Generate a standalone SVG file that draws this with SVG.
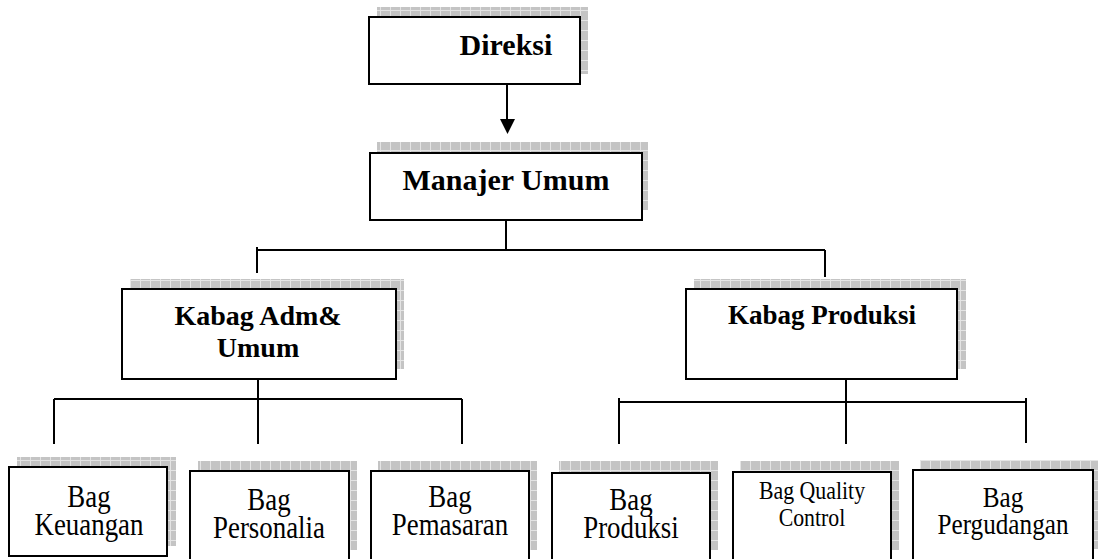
<svg xmlns="http://www.w3.org/2000/svg" width="1098" height="559" viewBox="0 0 1098 559">
<style>
.box{fill:#fff;stroke:#000;stroke-width:2}
.sh{fill:url(#grid);stroke:none}
.b{font-family:"Liberation Serif","Times New Roman",serif;font-weight:bold;text-anchor:middle;fill:#000}
.r{font-family:"Liberation Serif","Times New Roman",serif;text-anchor:middle;fill:#000}
.ln{stroke:#000;stroke-width:2;fill:none}
</style>
<defs>
<pattern id="grid" width="10" height="10" patternUnits="userSpaceOnUse">
<rect width="10" height="10" fill="#c4c4c4"/>
<rect x="0" y="0" width="1" height="10" fill="#e4e4e4"/>
<rect x="0" y="0" width="10" height="1" fill="#e4e4e4"/>
</pattern>
</defs>
<rect width="1098" height="559" fill="#fff"/>
<g id="connectors">
<line class="ln" x1="507" y1="84" x2="507" y2="121"/>
<polygon points="500,119 515,119 507.5,134" fill="#000"/>
<path class="ln" d="M506,220 V250 M257,250 H825 M257,247 V273 M825,250 V277"/>
<path class="ln" d="M258,379 V399 M54,399 H462 M54,399 V444 M258,399 V444 M462,399 V444"/>
<path class="ln" d="M846,379 V402 M619,402 H1026 M619,398 V444 M846,402 V444 M1026,398 V443"/>
</g>
<g id="direksi">
<rect class="sh" x="377" y="7" width="211" height="67"/>
<rect class="box" x="369" y="17" width="211" height="67"/>
<text class="b" x="506" y="55" font-size="30">Direksi</text>
</g>
<g id="manajer">
<rect class="sh" x="377" y="142" width="271" height="68"/>
<rect class="box" x="370" y="153" width="272" height="67"/>
<text class="b" x="506" y="190" font-size="30">Manajer Umum</text>
</g>
<g id="kabag-adm">
<rect class="sh" x="130" y="279" width="274" height="90"/>
<rect class="box" x="122" y="289" width="274" height="90"/>
<text class="b" x="258" y="325" font-size="28">Kabag Adm&amp;<tspan x="258" dy="32">Umum</tspan></text>
</g>
<g id="kabag-produksi">
<rect class="sh" x="694" y="279" width="272" height="90"/>
<rect class="box" x="686" y="289" width="271" height="90"/>
<text class="b" x="822" y="324" font-size="27">Kabag Produksi</text>
</g>
<g id="bag-keuangan">
<rect class="sh" x="17" y="457" width="159" height="89"/>
<rect class="box" x="9" y="467" width="158" height="89"/>
<text class="r" transform="translate(89,0) scale(0.84,1)" x="0" y="507" font-size="32">Bag<tspan x="0" dy="28">Keuangan</tspan></text>
</g>
<g id="bag-personalia">
<rect class="sh" x="198" y="461" width="159" height="89"/>
<rect class="box" x="190" y="471" width="159" height="95"/>
<text class="r" transform="translate(269,0) scale(0.84,1)" x="0" y="510" font-size="32">Bag<tspan x="0" dy="28">Personalia</tspan></text>
</g>
<g id="bag-pemasaran">
<rect class="sh" x="378" y="461" width="159" height="89"/>
<rect class="box" x="371" y="471" width="158" height="95"/>
<text class="r" transform="translate(450,0) scale(0.84,1)" x="0" y="507" font-size="32">Bag<tspan x="0" dy="28">Pemasaran</tspan></text>
</g>
<g id="bag-produksi">
<rect class="sh" x="559" y="461" width="159" height="89"/>
<rect class="box" x="552" y="473" width="158" height="95"/>
<text class="r" transform="translate(631,0) scale(0.84,1)" x="0" y="510" font-size="32">Bag<tspan x="0" dy="28">Produksi</tspan></text>
</g>
<g id="bag-qc">
<rect class="sh" x="740" y="461" width="159" height="89"/>
<rect class="box" x="733" y="472" width="158" height="95"/>
<text class="r" transform="translate(812,0) scale(0.84,1)" x="0" y="499" font-size="26">Bag Quality<tspan x="0" dy="27">Control</tspan></text>
</g>
<g id="bag-pergudangan">
<rect class="sh" x="920" y="460" width="182" height="89"/>
<rect class="box" x="913" y="470" width="180" height="95"/>
<text class="r" transform="translate(1003,0) scale(0.84,1)" x="0" y="507" font-size="30">Bag<tspan x="0" dy="27">Pergudangan</tspan></text>
</g>
</svg>
